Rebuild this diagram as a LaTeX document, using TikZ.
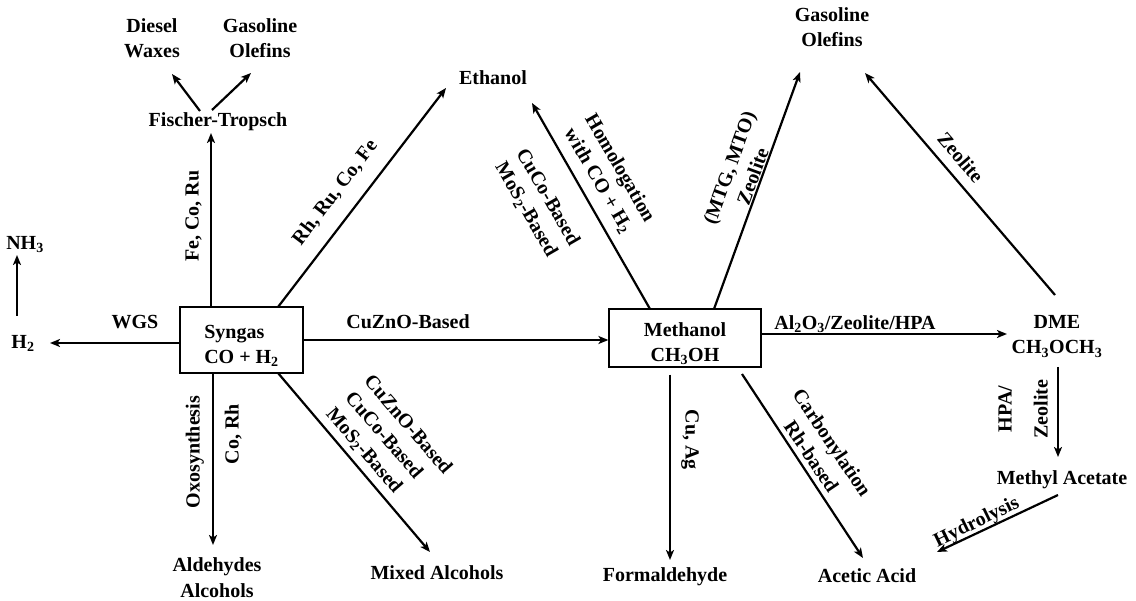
\documentclass[tikz,border=0pt]{standalone}
\usepackage{fontspec}
\setmainfont{Liberation Serif}
\usetikzlibrary{arrows.meta}
\begin{document}
\begin{tikzpicture}[x=1pt,y=-1pt,
  every node/.style={font={\fontsize{20}{25}\selectfont\bfseries}, inner sep=0pt, text height=13.5pt, text depth=4.5pt, align=center},
  two/.style={text height=38.5pt},
  three/.style={text height=63.5pt},
  procbox/.style={draw, line width=1.2pt, text height=51.7pt, text depth=4.5pt},
  arr/.style={line width=2.2pt, -{Stealth[length=10pt,width=8pt,inset=2.5pt]}},
]
\useasboundingbox (0,0) rectangle (1136,601);

% ---- main boxes
\node[procbox, align=left, minimum width=123pt, minimum height=66pt] (syn) at (241.5,340) {Syngas\\CO + H\textsubscript{2}};
\node[procbox, minimum width=152pt, minimum height=58pt] (meth) at (685,338) {Methanol\\CH\textsubscript{3}OH};

% ---- product nodes
\node (h2) at (23,344) {H\textsubscript{2}};
\node (nh3) at (25,245) {NH\textsubscript{3}};
\node (ft) at (218,122) {Fischer-Tropsch};
\node[two] (diesel) at (152,41) {Diesel\\Waxes};
\node[two] (gaso1) at (260,41) {Gasoline\\Olefins};
\node (ethanol) at (493,80) {Ethanol};
\node[two] (gaso2) at (832,30) {Gasoline\\Olefins};
\node[two] (dme) at (1057,337) {DME\\CH\textsubscript{3}OCH\textsubscript{3}};
\node (macet) at (1062,480) {Methyl Acetate};
\node (acetic) at (867,578) {Acetic Acid};
\node (formal) at (665,577) {Formaldehyde};
\node (mixed) at (437,575) {Mixed Alcohols};
\node[two] (ald) at (217,580) {Aldehydes\\Alcohols};

% ---- arrow end points
\coordinate (h2tip) at (50,343);
\coordinate (nh3a) at (17,316);
\coordinate (nh3b) at (17,255);
\coordinate (fttip) at (211,133);
\coordinate (fta) at (200,111);
\coordinate (dieseltip) at (172,74);
\coordinate (ftb) at (212,110);
\coordinate (gaso1tip) at (251,73);
\coordinate (synne) at (278,307);
\coordinate (ethtipA) at (446,88);
\coordinate (aldtip) at (213,545);
\coordinate (synse) at (278,373);
\coordinate (mixedtip) at (430,552);
\coordinate (methnw) at (650,309);
\coordinate (ethtipB) at (532,103);
\coordinate (methne) at (714,309);
\coordinate (gasotipA) at (800,72);
\coordinate (dmetipA) at (1007,334);
\coordinate (dmetop) at (1055,295);
\coordinate (gasotipB) at (865,73);
\coordinate (formaltip) at (670,560);
\coordinate (methse) at (742,374);
\coordinate (acetictipA) at (863,558);
\coordinate (dmebot) at (1058,367);
\coordinate (macettip) at (1058,457);
\coordinate (macetbot) at (1058,495);
\coordinate (acetictipB) at (937,552);

% ---- connectors
\draw[arr] (syn.west |- h2tip) -- (h2tip);
\draw[arr] (nh3a) -- (nh3b);
\draw[arr] (syn.north -| fttip) -- (fttip);
\draw[arr] (fta) -- (dieseltip);
\draw[arr] (ftb) -- (gaso1tip);
\draw[arr] (synne) -- (ethtipA);
\draw[arr] (syn.east) -- (syn.east -| meth.west);
\draw[arr] (syn.south -| aldtip) -- (aldtip);
\draw[arr] (synse) -- (mixedtip);
\draw[arr] (methnw) -- (ethtipB);
\draw[arr] (methne) -- (gasotipA);
\draw[arr] (meth.east |- dmetipA) -- (dmetipA);
\draw[arr] (dmetop) -- (gasotipB);
\draw[arr] ([yshift=-7pt]meth.south -| formaltip) -- (formaltip);
\draw[arr] (methse) -- (acetictipA);
\draw[arr] (dmebot) -- (macettip);
\draw[arr] (macetbot) -- (acetictipB);

% ---- connector labels
\node (lwgs) at (135,324) {WGS};
\node (lcuzno) at (408,324) {CuZnO-Based};
\node (lal) at (855,325) {Al\textsubscript{2}O\textsubscript{3}/Zeolite/HPA};
\node[rotate=90] (lfe) at (194,216) {Fe, Co, Ru};
\node[rotate=52.7] (lrh) at (336,193) {Rh, Ru, Co, Fe};
\node[rotate=90] (loxo) at (195,452) {Oxosynthesis};
\node[rotate=90] (lcorh) at (234,434) {Co, Rh};
\node[three, rotate=-49.3, align=left] (lmix) at (388,442) {CuZnO-Based\\CuCo-Based\\MoS\textsubscript{2}-Based};
\node[two, rotate=-60] (lhomo) at (608,175) {Homologation\\with CO + H\textsubscript{2}};
\node[two, rotate=-60] (lcuco) at (536,204) {CuCo-Based\\MoS\textsubscript{2}-Based};
\node[two, rotate=70] (lmtg) at (743,173) {(MTG, MTO)\\Zeolite};
\node[rotate=-49.4] (lzeo) at (959,159) {Zeolite};
\node[rotate=-90] (lcuag) at (690,440) {Cu, Ag};
\node[two, rotate=-56] (lcarb) at (820,451) {Carbonylation\\Rh-based};
\node[rotate=90, text height=49.5pt] (lhpa) at (1025,409) {HPA/\\[11pt]Zeolite};
\node[rotate=26] (lhydro) at (977,523) {Hydrolysis};
\end{tikzpicture}
\end{document}
